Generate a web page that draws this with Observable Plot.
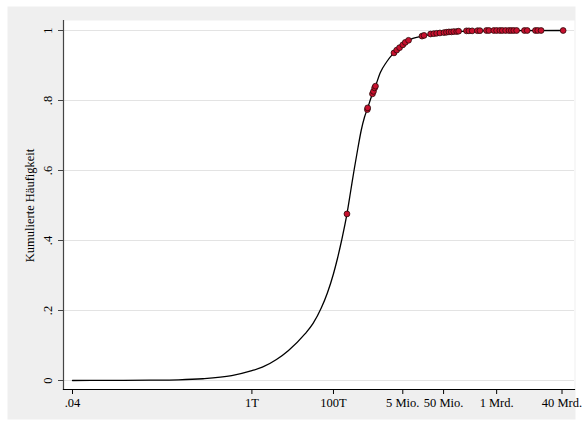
<!DOCTYPE html>
<html>
<head>
<meta charset="utf-8">
<script src="https://cdn.jsdelivr.net/npm/d3@7"></script>
<script src="https://cdn.jsdelivr.net/npm/@observablehq/plot@0.6"></script>
<style>
  html, body { margin: 0; padding: 0; background: #ffffff; }
  #chart { width: 584px; height: 425px; }
</style>
</head>
<body>
<div id="chart"></div>
<script>
// Tick values and labels
const xTicks = [0.04, 1e3, 1e5, 5e6, 5e7, 1e9, 4e10];
const xTickLabels = [".04", "1T", "100T", "5 Mio.", "50 Mio.", "1 Mrd.", "40 Mrd."];
const yTicks = [0, 0.2, 0.4, 0.6, 0.8, 1];
const yTickLabels = ["0", ".2", ".4", ".6", ".8", "1"];
const yTitle = "Kumulierte Häufigkeit";

// Cumulative curve
const curveX = [0.04, 0.32, 3.2, 16, 63, 320, 1000, 1800, 4000, 7900, 20000, 31600, 50100, 70800,
  100000, 126000, 158000, 214000, 263000, 324000, 398000, 479000, 575000, 676000, 902000, 1070000, 1410000,
  2000000, 3020000, 4170000, 6920000, 14800000, 28800000, 67600000, 2.0e8, 1.0e9, 4.27e10];
const curveY = [0, 0.0005, 0.001, 0.002, 0.005, 0.014, 0.028, 0.038, 0.06, 0.086, 0.133, 0.163, 0.207, 0.25,
  0.305, 0.35, 0.40, 0.476, 0.54, 0.605, 0.665, 0.715, 0.752, 0.776, 0.819, 0.841, 0.88,
  0.91, 0.936, 0.951, 0.972, 0.984, 0.99, 0.996, 0.998, 0.9995, 1];

// Observations (red dots)
const dotX = [214000, 676000, 690000, 902000, 955000, 1020000, 1070000,
  3040000, 3550000, 4170000, 5010000, 5750000, 6920000,
  1.48e7, 1.66e7, 2.4e7, 2.88e7, 3.39e7, 4.07e7, 5.13e7, 5.89e7, 6.76e7, 7.76e7, 8.91e7, 1.05e8, 1.17e8,
  1.82e8, 2.09e8, 2.51e8, 3.39e8, 3.89e8, 5.62e8, 6.46e8, 8.51e8, 1.0e9, 1.2e9, 1.38e9, 1.66e9, 2.0e9,
  2.29e9, 2.63e9, 3.09e9, 4.79e9, 5.62e9, 8.91e9, 1.02e10, 1.23e10, 4.27e10];
const dotY = [0.476, 0.774, 0.779, 0.819, 0.826, 0.836, 0.841,
  0.936, 0.944, 0.951, 0.959, 0.966, 0.972,
  0.984, 0.986, 0.99, 0.991, 0.992, 0.993, 0.994, 0.995, 0.996, 0.996, 0.997, 0.997, 0.998,
  0.999, 0.999, 0.999, 0.9995, 0.9995, 1, 1, 1, 1, 1, 1, 1, 1,
  1, 1, 1, 1, 1, 1, 1, 1, 1];

const chart = Plot.plot({
  width: 584,
  height: 425,
  marginLeft: 63,
  marginRight: 10,
  marginTop: 20,
  marginBottom: 36,
  x: { type: "log", domain: [0.04, 4e10], range: [72, 561.5] },
  y: { domain: [0, 1], range: [380, 30] },
  style: {
    fontFamily: "'Liberation Serif', 'Times New Roman', serif",
    fontSize: "12px",
    background: "#ffffff",
    color: "#000",
    overflow: "visible"
  },
  marks: [
    Plot.frame({ fill: "#efefef", stroke: null, insetLeft: -56, insetTop: -14, insetRight: -1, insetBottom: -30 }),
    Plot.frame({ fill: "#ffffff", stroke: null }),
    Plot.gridY(yTicks, { stroke: "#e3e3e3", strokeOpacity: 1, strokeWidth: 1 }),
    Plot.line(curveY, { x: curveX, y: curveY, curve: "monotone-x", stroke: "#000", strokeWidth: 1.3 }),
    Plot.dot(dotY, { x: dotX, y: dotY, r: 2.9, fill: "#c8102e", stroke: "#2a0a0a", strokeWidth: 0.8 }),
    Plot.frame({ anchor: "left", stroke: "#444", strokeWidth: 1.2 }),
    Plot.frame({ anchor: "bottom", stroke: "#000", strokeWidth: 1.2 }),
    Plot.axisY({ ticks: yTicks, tickSize: 5, tickFormat: () => "", label: null, stroke: "#444" }),
    Plot.text(yTicks, { y: d => d, text: (d, i) => yTickLabels[i], frameAnchor: "left", textAnchor: "middle", dx: -16, rotate: -90, fontSize: 12.5 }),
    Plot.text([yTitle], { y: () => 0.5, text: d => d, frameAnchor: "left", textAnchor: "middle", dx: -34, rotate: -90, fontSize: 12.5 }),
    Plot.axisX({ ticks: xTicks, tickFormat: d => xTickLabels[xTicks.indexOf(d)], tickSize: 5, tickPadding: 4, label: null, stroke: "#000", fontSize: 12.5 })
  ]
});
document.getElementById("chart").appendChild(chart);
</script>
</body>
</html>
